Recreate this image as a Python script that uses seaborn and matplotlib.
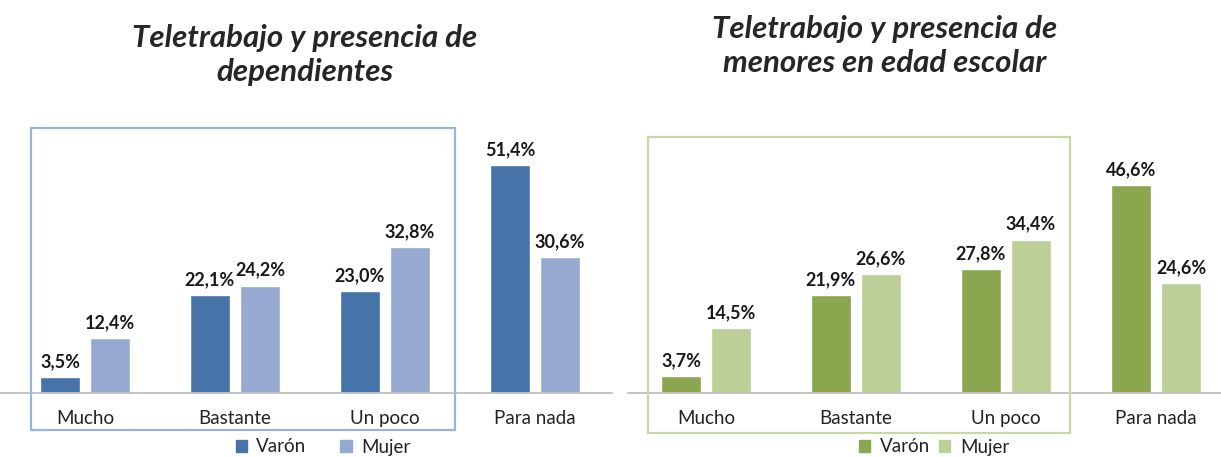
import numpy as np
import pandas as pd
import matplotlib.pyplot as plt
from matplotlib.patches import Rectangle, Patch
import seaborn as sbn

# Data
categories = ["Mucho", "Bastante", "Un poco", "Para nada"]
dep_varon = [3.5, 22.1, 23.0, 51.4]
dep_mujer = [12.4, 24.2, 32.8, 30.6]
esc_varon = [3.7, 21.9, 27.8, 46.6]
esc_mujer = [14.5, 26.6, 34.4, 24.6]
sexes = ["Varón", "Mujer"]

title_dep = "Teletrabajo y presencia de\ndependientes"
title_esc = "Teletrabajo y presencia de\nmenores en edad escolar"

blue_palette = {"Varón": "#4673A8", "Mujer": "#95A9D1"}
green_palette = {"Varón": "#8AA64E", "Mujer": "#BBCF96"}

W, H = 1221, 457
sbn.set_style("white")
plt.rcParams['font.family'] = ['Lato', 'DejaVu Sans']

fig = plt.figure(figsize=(W / 100, H / 100), dpi=100)


def px(x0, y0, x1, y1):
    # pixel box (top-left origin) -> figure fraction rect
    return [x0 / W, 1 - y1 / H, (x1 - x0) / W, (y1 - y0) / H]


def make_df(v, m):
    return pd.DataFrame({"Respuesta": categories * 2,
                         "Sexo": ["Varón"] * 4 + ["Mujer"] * 4,
                         "Valor": v + m})


def panel(rect, df, palette, first_center, axis_y, ppp):
    x0, x1 = rect
    top = 95
    ax = fig.add_axes(px(x0, top, x1, axis_y))
    sbn.barplot(data=df, x="Respuesta", y="Valor", hue="Sexo", hue_order=sexes,
                palette=palette, width=0.667, gap=0.2, saturation=1,
                legend=False, ax=ax)
    ax.set_xlim((x0 - first_center) / 150, (x1 - first_center) / 150)
    ax.set_ylim(0, (axis_y - top) / ppp)
    for c in ax.containers:
        ax.bar_label(c, labels=[f"{v:.1f}%".replace(".", ",") for v in c.datavalues],
                     padding=5, fontsize=13, fontweight="bold", color="#1a1a1a")
    for s in ["top", "left", "right"]:
        ax.spines[s].set_visible(False)
    ax.spines["bottom"].set_color("#BFBFBF")
    ax.spines["bottom"].set_linewidth(1.3)
    ax.set_yticks([])
    ax.set_xlabel("")
    ax.set_ylabel("")
    ax.tick_params(axis="x", length=0, labelsize=13.5, pad=12, colors="#222222")
    return ax


panel((0, 612), make_df(dep_varon, dep_mujer), blue_palette, 85, 393, 4.44)
panel((628, 1221), make_df(esc_varon, esc_mujer), green_palette, 706, 393, 4.46)

# titles
fig.text(305 / W, 1 - 55 / H, title_dep, ha="center", va="center", fontsize=22.5,
         fontweight="bold", fontstyle="italic", linespacing=1.3)
fig.text(885 / W, 1 - 46 / H, title_esc, ha="center", va="center", fontsize=22.5,
         fontweight="bold", fontstyle="italic", linespacing=1.3)

# highlight boxes
for (bx0, by0, bx1, by1), col in [((31, 128, 455, 430), "#9BB5D8"),
                                  ((648, 137, 1070, 433), "#C6D9A4")]:
    fig.patches.append(Rectangle((bx0 / W, 1 - by1 / H), (bx1 - bx0) / W, (by1 - by0) / H,
                                 transform=fig.transFigure, fill=False,
                                 edgecolor=col, linewidth=1.6))

# legends
for pal, cx, spacing in [(blue_palette, 323 / W, 1.8), (green_palette, 934 / W, 0.5)]:
    handles = [Patch(color=pal[s], label=s) for s in sexes]
    fig.legend(handles=handles, loc="center", bbox_to_anchor=(cx, 1 - 447 / H),
               ncol=2, frameon=False, fontsize=13.5, handlelength=0.6, handleheight=0.6,
               handletextpad=0.5, columnspacing=spacing, labelcolor="#222222")

fig.savefig("out.png", dpi=100)
